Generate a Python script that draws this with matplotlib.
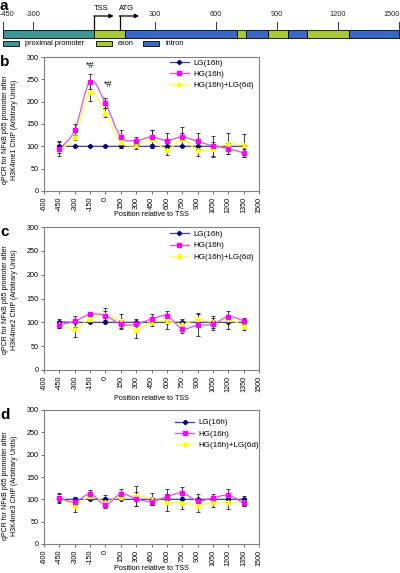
import numpy as np
import matplotlib
matplotlib.use('Agg')
import matplotlib.pyplot as plt
from matplotlib.path import Path
from matplotlib.patches import PathPatch, Rectangle
from matplotlib.lines import Line2D

plt.rcParams['font.family'] = ['Liberation Sans', 'DejaVu Sans']

# ---------------- data ----------------
positions = [-450, -300, -150, 0, 150, 300, 450, 600, 750, 900, 1050, 1200, 1350]
x_ticks = [-600, -450, -300, -150, 0, 150, 300, 450, 600, 750, 900, 1050, 1200, 1350, 1500]
y_ticks = [0, 50, 100, 150, 200, 250, 300]
series_names = ['LG(16h)', 'HG(16h)', 'HG(16h)+LG(6d)']

# panel b : H3K4me1
b_lg = [100, 100, 100, 100, 100, 100, 100, 100, 100, 100, 100, 100, 100]
b_hg = [94, 136, 245, 197, 121, 113, 121, 113, 121, 111, 101, 95, 85]
b_hl = [95, 120, 221, 175, 110, 102, 116, 92, 116, 91, 93, 106, 102]
b_lg_err = [10, 2, 2, 2, 3, 2, 2, 2, 2, 2, 2, 2, 2]
b_hg_err = [8, 14, 16, 12, 16, 7, 16, 16, 23, 18, 23, 13, 10]
b_hl_err = [17, 6, 19, 10, 8, 8, 20, 12, 14, 12, 17, 24, 25]

# panel c : H3K4me2
c_lg = [101, 100, 100, 100, 100, 100, 100, 100, 100, 100, 100, 100, 100]
c_hg = [95, 102, 117, 114, 96, 96, 107, 113, 87, 94, 96, 112, 103]
c_hl = [96, 86, 108, 115, 102, 84, 101, 102, 96, 106, 101, 106, 93]
c_lg_err = [6, 2, 2, 2, 2, 8, 2, 2, 8, 2, 2, 13, 2]
c_hg_err = [6, 12, 4, 10, 8, 4, 10, 10, 10, 23, 13, 12, 7]
c_hl_err = [7, 17, 5, 15, 15, 17, 8, 15, 6, 14, 13, 8, 10]

# panel d : H3K4me3
d_lg = [100, 100, 100, 100, 100, 100, 100, 100, 100, 100, 100, 100, 100]
d_hg = [103, 94, 112, 88, 112, 101, 95, 106, 114, 97, 103, 109, 91]
d_hl = [106, 85, 107, 95, 106, 108, 101, 93, 92, 86, 93, 93, 94]
d_lg_err = [8, 5, 2, 10, 2, 2, 2, 2, 2, 2, 2, 2, 7]
d_hg_err = [8, 10, 8, 8, 11, 15, 8, 17, 13, 14, 9, 14, 7]
d_hl_err = [8, 13, 6, 10, 6, 22, 14, 20, 13, 15, 10, 14, 10]

# gene diagram (panel a)
gene_segments = [(-450, 0, 'promoter'), (0, 150, 'exon'), (150, 700, 'intron'),
                 (700, 747, 'exon'), (747, 856, 'intron'), (856, 952, 'exon'),
                 (952, 1048, 'intron'), (1048, 1252, 'exon'), (1252, 1500, 'intron')]
gene_ticks = [-450, -300, 300, 600, 900, 1200, 1500]
tss_pos = 0
atg_pos = 125

# ---------------- style ----------------
W, H = 400, 573
fig = plt.figure(figsize=(W / 100, H / 100), dpi=100)

seg_colors = {'promoter': '#3f9494', 'exon': '#a8c83a', 'intron': '#3a66c4'}
c_lg_col, c_hg_col, c_hl_col = '#000080', '#ff00ff', '#ffff00'
line_lg, line_hg, line_hl = '#404090', '#e050e0', '#ffff40'

def frac_rect(l, t, r, b):
    return [l / W, 1 - b / H, (r - l) / W, (b - t) / H]

# ---------------- panel a ----------------
axa = fig.add_axes([0, 1 - 50 / H, 1, 50 / H])
axa.set_xlim(-450 - 3 / 0.2031, 1500 + 1 / 0.2031)
axa.set_ylim(50, 0)
axa.axis('off')
for s, e, kind in gene_segments:
    axa.add_patch(Rectangle((s, 30), e - s, 7.5, facecolor=seg_colors[kind],
                            edgecolor='black', lw=0.6))
for i, t in enumerate(gene_ticks):
    axa.plot([t, t], [22, 30], color='#333333', lw=0.7)
    if i == 0:
        ha, dx = 'left', -16
    elif i == len(gene_ticks) - 1:
        ha, dx = 'right', 5
    else:
        ha, dx = 'center', 0
    axa.text(t + dx, 15, str(t), ha=ha, va='center', fontsize=5.3, color='#222222')
for pos, lab in [(tss_pos, 'TSS'), (atg_pos, 'ATG')]:
    axa.plot([pos, pos], [30, 16], color='black', lw=0.9)
    axa.annotate('', xy=(pos + 95, 16), xytext=(pos - 2, 16),
                 arrowprops=dict(arrowstyle='-|>', color='black', lw=0.9,
                                 mutation_scale=6, shrinkA=0, shrinkB=0))
    axa.text(pos + 35, 8, lab, ha='center', va='center', fontsize=5.5)
# legend of panel a
for (px0, txt, kind) in [(3, 'proximal promoter', 'promoter'), (96, 'exon', 'exon'),
                          (143, 'intron', 'intron')]:
    axa.add_patch(Rectangle((px0 / W, 1 - 46 / 50), 16 / W, 5 / 50,
                            transform=axa.transAxes, facecolor=seg_colors[kind],
                            edgecolor='black', lw=0.6, clip_on=False))
    axa.text((px0 + 22) / W, 1 - 43.5 / 50, txt, transform=axa.transAxes,
             ha='left', va='center', fontsize=5.3)
fig.text(0 / W, 1 + 1 / H, 'a', fontsize=11, fontweight='bold', ha='left', va='top')

# ---------------- line panels ----------------
def smooth(ax, xs, ys, color, lw):
    P = np.column_stack([xs, ys]).astype(float)
    n = len(P)
    verts = [P[0]]
    codes = [Path.MOVETO]
    for i in range(n - 1):
        p0 = P[max(i - 1, 0)]
        p1 = P[i]
        p2 = P[i + 1]
        p3 = P[min(i + 2, n - 1)]
        verts += [p1 + (p2 - p0) / 6, p2 - (p3 - p1) / 6, p2]
        codes += [Path.CURVE4] * 3
    ax.add_patch(PathPatch(Path(verts, codes), fill=False, edgecolor=color, lw=lw,
                           zorder=2))

def panel(rect, letter, mark, lg, hg, hl, lge, hge, hle, ylabel_center, xlabel_y,
          legend_anchor, stars=False):
    ax = fig.add_axes(rect)
    ax.set_xlim(-600, 1500)
    ax.set_ylim(0, 300)
    for sp in ax.spines.values():
        sp.set_color('#808080')
        sp.set_linewidth(0.8)
    ax.set_xticks(x_ticks)
    ax.set_xticklabels([str(t) for t in x_ticks], rotation=90)
    ax.set_yticks(y_ticks)
    ax.tick_params(labelsize=5.2, length=2, width=0.6, color='#555555', pad=2)
    smooth(ax, positions, lg, line_lg, 0.9)
    smooth(ax, positions, hl, line_hl, 0.9)
    smooth(ax, positions, hg, line_hg, 0.9)
    for vals, errs in [(lg, lge), (hg, hge), (hl, hle)]:
        ax.errorbar(positions, vals, yerr=errs, fmt='none', ecolor='#222222',
                    elinewidth=0.6, capsize=1.6, capthick=0.6, zorder=3)
    ax.plot(positions, lg, ls='none', marker='D', ms=2.2, color=c_lg_col, zorder=4)
    ax.plot(positions, hl, ls='none', marker='^', ms=3.2, color=c_hl_col, zorder=4)
    ax.plot(positions, hg, ls='none', marker='s', ms=2.8, color=c_hg_col, zorder=4)
    handles = [Line2D([], [], color=line_lg, lw=0.9, marker='D', ms=2.2, mfc=c_lg_col, mec=c_lg_col),
               Line2D([], [], color=line_hg, lw=0.9, marker='s', ms=2.8, mfc=c_hg_col, mec=c_hg_col),
               Line2D([], [], color=line_hl, lw=0.9, marker='^', ms=3.2, mfc=c_hl_col, mec=c_hl_col)]
    ax.legend(handles, series_names, loc='upper left', bbox_to_anchor=legend_anchor,
              frameon=False, fontsize=5.8, handlelength=2.4, handletextpad=0.5,
              labelspacing=0.45, borderaxespad=0, borderpad=0)
    if stars:
        ax.text(-150, 270, '*#', ha='center', va='bottom', fontsize=6.5)
        ax.text(25, 228, '*#', ha='center', va='bottom', fontsize=6.5)
    fig.text(151 / W, 1 - xlabel_y / H,
             'Position relative to TSS', ha='center', va='center', fontsize=5.2)
    fig.text(10 / W, 1 - ylabel_center / H,
             'qPCR for NF\u03baB p65 promoter after\n' + mark + ' ChIP (Arbitrary Units)',
             rotation=90, ha='center', va='center', fontsize=5.0, multialignment='center',
             linespacing=1.25)
    top_px = (1 - rect[1] - rect[3]) * H
    fig.text(0, 1 - (top_px - 2) / H, letter, fontsize=11, fontweight='bold',
             ha='left', va='top')
    return ax

panel(frac_rect(44, 57, 259, 191), 'b', 'H3K4me1', b_lg, b_hg, b_hl,
      b_lg_err, b_hg_err, b_hl_err, 130, 214, (0.585, 0.985), stars=True)
panel(frac_rect(44, 227, 259, 370), 'c', 'H3K4me2', c_lg, c_hg, c_hl,
      c_lg_err, c_hg_err, c_hl_err, 300, 399, (0.585, 0.975))
panel(frac_rect(44, 410, 259, 544), 'd', 'H3K4me3', d_lg, d_hg, d_hl,
      d_lg_err, d_hg_err, d_hl_err, 486, 568, (0.61, 0.935))

fig.savefig('out.png', dpi=100)
